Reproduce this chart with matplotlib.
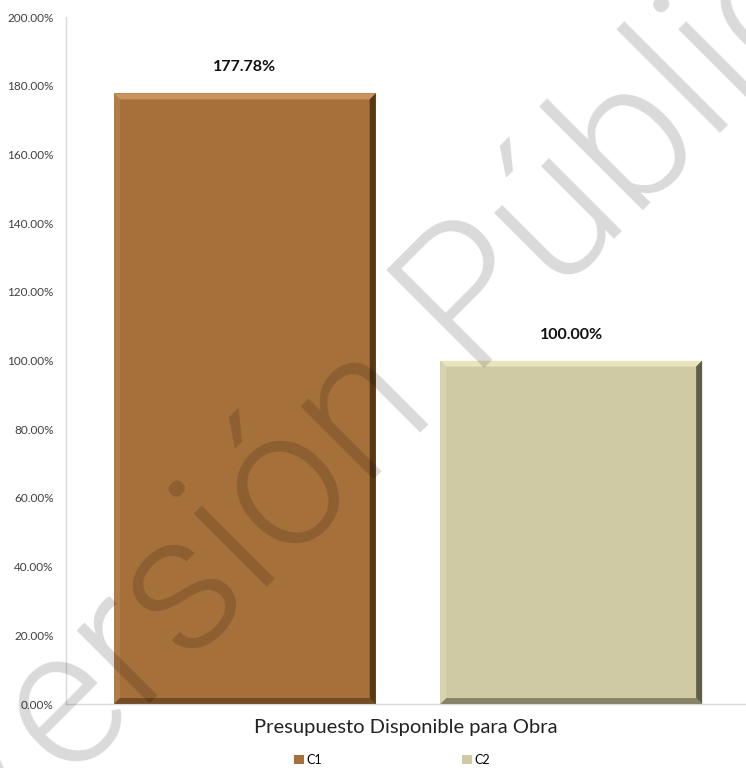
import matplotlib
matplotlib.use("Agg")
from matplotlib import pyplot as plt
from matplotlib.patches import Polygon
from matplotlib.ticker import FuncFormatter
import numpy as np

category = "Presupuesto Disponible para Obra"
series = ["C1", "C2"]
values = [177.78, 100.00]
colors = ["#a5703a", "#cfcaa3"]
dark = ["#4a2e12", "#4d4a36"]
light = ["#d9a36a", "#f4f0cc"]

plt.rcParams['font.family'] = ['Lato', 'DejaVu Sans']

fig = plt.figure(figsize=(7.46, 7.68), dpi=100)
ax = fig.add_axes([0.0885, 0.0833, 0.9115, 0.8945])

offsets = [-0.237, 0.243]
width = 0.385
bars = []
for i in range(len(series)):
    b = ax.bar(offsets[i], values[i], width, color=colors[i], label=series[i], zorder=2)
    bars.append(b[0])

ax.set_xlim(-0.5, 0.5)
ax.set_ylim(0, 200)

# bevel look on each bar
bw = 6 / 680
bh = 6 * 200 / 687
for i, r in enumerate(bars):
    x0, y0 = r.get_x(), r.get_y()
    x1, y1 = x0 + r.get_width(), y0 + r.get_height()
    ax.add_patch(Polygon([[x0, y1], [x1, y1], [x1 - bw, y1 - bh], [x0 + bw, y1 - bh]],
                         closed=True, color=light[i], alpha=0.7, lw=0, zorder=3))
    ax.add_patch(Polygon([[x0, y0], [x0, y1], [x0 + bw, y1 - bh], [x0 + bw, y0 + bh]],
                         closed=True, color=light[i], alpha=0.25, lw=0, zorder=3))
    ax.add_patch(Polygon([[x1, y0], [x1, y1], [x1 - bw, y1 - bh], [x1 - bw, y0 + bh]],
                         closed=True, color=dark[i], alpha=0.85, lw=0, zorder=3))
    ax.add_patch(Polygon([[x0, y0], [x1, y0], [x1 - bw, y0 + bh], [x0 + bw, y0 + bh]],
                         closed=True, color=dark[i], alpha=0.55, lw=0, zorder=3))
    ax.text(r.get_x() + r.get_width() / 2, y1 + 5.5, f"{values[i]:.2f}%",
            ha='center', va='bottom', fontsize=11.5, fontweight='bold', color='#111111')

ax.set_yticks(np.arange(0, 201, 20))
ax.yaxis.set_major_formatter(FuncFormatter(lambda v, p: f"{v:.2f}%"))
ax.tick_params(axis='y', length=0, pad=9, labelsize=8.5, labelcolor='#404040')
ax.set_xticks([])
ax.set_xlabel(category, fontsize=14.5, color='#222222', labelpad=11)

for s in ['top', 'right']:
    ax.spines[s].set_visible(False)
for s in ['left', 'bottom']:
    ax.spines[s].set_color('#d9d9d9')
    ax.spines[s].set_linewidth(1)

leg = fig.legend(handles=bars, labels=series, loc='lower center', bbox_to_anchor=(0.525, -0.012),
                 ncol=2, frameon=False, fontsize=9, handlelength=0.8, handleheight=0.8,
                 handletextpad=0.2, columnspacing=11.2)

# watermark
fig.text(0.603, 0.474, "Versión Pública", rotation=45, rotation_mode='anchor',
         ha='center', va='baseline', fontsize=140, family='Roboto', fontweight=300,
         color='black', alpha=0.15, zorder=10)

fig.savefig("out.png", dpi=100)
